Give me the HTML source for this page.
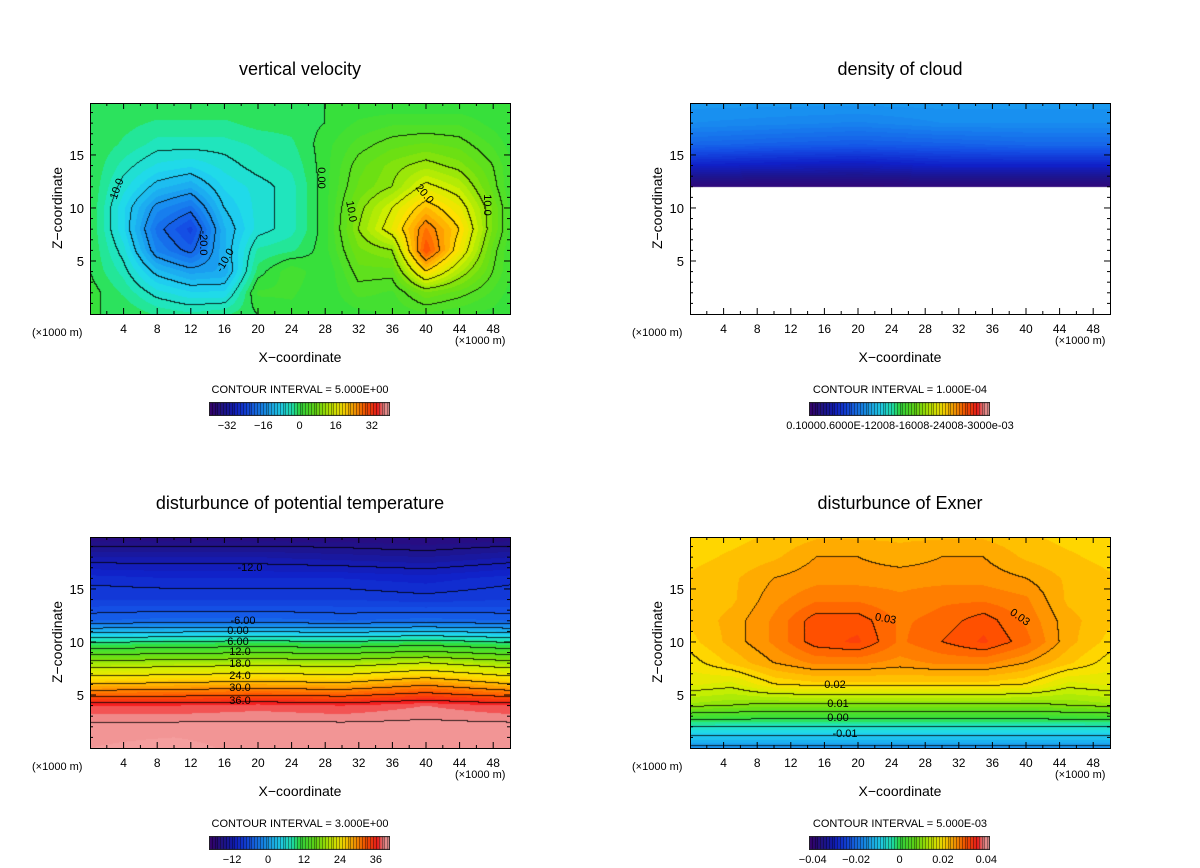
<!DOCTYPE html>
<html><head><meta charset="utf-8">
<style>
body{margin:0;background:#fff;width:1200px;height:868px;overflow:hidden;position:relative;font-family:"Liberation Sans",sans-serif;}
canvas{position:absolute;}
svg{position:absolute;left:0;top:0;}
</style></head>
<body>
<canvas id="c0" width="420" height="211" style="left:90px;top:103px"></canvas>
<canvas id="c1" width="420" height="211" style="left:690px;top:103px"></canvas>
<canvas id="c2" width="420" height="211" style="left:90px;top:537px"></canvas>
<canvas id="c3" width="420" height="211" style="left:690px;top:537px"></canvas>
<canvas id="b0" width="181" height="14" style="left:209px;top:402px"></canvas>
<canvas id="b1" width="181" height="14" style="left:809px;top:402px"></canvas>
<canvas id="b2" width="181" height="14" style="left:209px;top:836px"></canvas>
<canvas id="b3" width="181" height="14" style="left:809px;top:836px"></canvas>
<svg id="ov" width="1200" height="868"></svg>
<script>
// ---- data ----
const zLevels = [0,2,4,6,8,10,12,14,16,18,20];
const vvX = [0,4,8,12,16,20,24,28,32,36,40,44,48,50];
const vvValues = [
[0,0,-2,-3,-2,0,1,0,1,2,3,2,1,0],
[1,-2,-6,-8,-8,2,2,0,4,3,8,6,3,1],
[0,-4,-11,-14,-13,-1,3,0,6,6,20,12,5,2],
[0,-6,-17,-21,-12,-3,-2,1,8,10,30,18,6,2],
[0,-8,-19,-24,-12,-6,-4,1,10,17,27,20,8,3],
[0,-8,-16,-19,-10,-6,-4,1,9,15,22,17,8,3],
[0,-6,-11,-13,-8,-6,-4,1,7,10,16,13,6,2],
[0,-4,-7,-8,-6,-4,-3,1,6,9,11,9,5,2],
[0,-2,-4,-4,-4,-3,-2,1,4,6,7,6,3,1],
[0,-1,-2,-2,-2,-1,-1,0,2,3,3,3,1,0],
[0,0,0,0,0,0,0,0,0,0,0,0,0,0]];
const cloudX = [0,10,20,30,40,50];
const cloudValues = [
[null,null,null,null,null,null],[null,null,null,null,null,null],[null,null,null,null,null,null],
[null,null,null,null,null,null],[null,null,null,null,null,null],[null,null,null,null,null,null],
[0.08,0.08,0.08,0.08,0.08,0.08],
[0.45,0.42,0.4,0.45,0.45,0.45],
[0.75,0.72,0.7,0.72,0.75,0.75],
[0.9,0.88,0.86,0.9,0.9,0.9],
[0.95,0.95,0.95,0.95,0.95,0.95]];
const ptX = [0,10,20,30,40,50];
const ptValues = [
[40,40.5,39.5,40,39.5,40],
[39.5,39.5,39.5,39.5,39.5,39.5],
[37,37,37.5,37,38,37],
[27,27.5,28,27.5,29.5,27],
[19,19.5,20,19.5,21,19],
[8.5,9,9.5,9,10,8.5],
[-5,-4.5,-4.5,-5,-4.5,-5],
[-8,-8,-8,-8,-8.5,-8],
[-9.5,-10,-10,-10,-10.5,-9.5],
[-13,-13,-13,-13.5,-14,-13],
[-17,-17,-17,-17,-17.5,-17]];
const exX = [0,5,10,15,20,25,30,35,40,45,50];
const exValues = [
[-0.016,-0.016,-0.016,-0.016,-0.016,-0.016,-0.016,-0.016,-0.016,-0.016,-0.016],
[-0.005,-0.005,-0.005,-0.005,-0.005,-0.005,-0.005,-0.005,-0.005,-0.005,-0.005],
[0.011,0.01,0.009,0.009,0.009,0.009,0.009,0.009,0.009,0.01,0.011],
[0.017,0.016,0.02,0.021,0.021,0.021,0.021,0.021,0.02,0.016,0.017],
[0.019,0.022,0.025,0.027,0.027,0.026,0.027,0.027,0.025,0.022,0.019],
[0.021,0.024,0.027,0.031,0.032,0.028,0.03,0.032,0.029,0.024,0.021],
[0.022,0.024,0.027,0.031,0.031,0.028,0.029,0.031,0.028,0.024,0.022],
[0.022,0.023,0.026,0.028,0.028,0.027,0.028,0.028,0.027,0.023,0.022],
[0.022,0.023,0.025,0.026,0.026,0.026,0.026,0.026,0.025,0.023,0.022],
[0.021,0.022,0.023,0.025,0.025,0.024,0.025,0.025,0.023,0.022,0.021],
[0.021,0.021,0.022,0.023,0.023,0.023,0.023,0.023,0.022,0.021,0.021]];
const xTicks = [4,8,12,16,20,24,28,32,36,40,44,48];
const yTicks = [5,10,15];

// ---- rendering ----
const stops=[[0,[58,0,112]],[0.08,[30,20,140]],[0.15,[16,32,200]],[0.22,[20,80,230]],[0.3,[24,140,240]],[0.4,[32,216,240]],[0.46,[32,232,176]],[0.5,[48,224,64]],[0.6,[112,224,16]],[0.68,[208,240,0]],[0.74,[255,224,0]],[0.8,[255,160,0]],[0.87,[255,80,0]],[0.93,[245,30,30]],[0.965,[240,140,140]],[1,[245,160,160]]];
function cmap(t){t=Math.max(0,Math.min(1,t));for(let i=1;i<stops.length;i++){if(t<=stops[i][0]){const a=stops[i-1],b=stops[i],f=(t-a[0])/(b[0]-a[0]);return a[1].map((c,k)=>Math.round(c+(b[1][k]-c)*f));}}return stops[stops.length-1][1];}
function idx(arr,v){let i=0;while(i<arr.length-2&&v>arr[i+1])i++;return [i,(v-arr[i])/(arr[i+1]-arr[i])];}
function interp(xs,vals,x,z){const [i,fx]=idx(xs,x),[j,fz]=idx(zLevels,z);const a=vals[j][i],b=vals[j][i+1],c=vals[j+1][i],d=vals[j+1][i+1];if(a===null||b===null||c===null||d===null)return null;return (a*(1-fx)+b*fx)*(1-fz)+(c*(1-fx)+d*fx)*fz;}
function drawField(id,xs,vals,vmin,vmax,ci,lines){
  const cv=document.getElementById(id),ctx=cv.getContext('2d'),W=cv.width,H=cv.height;
  const img=ctx.createImageData(W,H);const V=[];
  for(let py=0;py<H;py++){V.push([]);for(let px=0;px<W;px++){V[py].push(interp(xs,vals,(px+0.5)/W*50,(H-py-0.5)/H*19.9));}}
  const q=ci/3;
  for(let py=0;py<H;py++)for(let px=0;px<W;px++){const v=V[py][px];const o=(py*W+px)*4;let c=[255,255,255];
    if(v!==null){const vq=(Math.floor(v/q)+0.5)*q;c=cmap((vq-vmin)/(vmax-vmin));
      if(lines){const b=Math.floor(v/ci+1e-9);const r=px<W-1?V[py][px+1]:v,d=py<H-1?V[py+1][px]:v;
        if(r!==null&&d!==null&&(Math.floor(r/ci+1e-9)!==b||Math.floor(d/ci+1e-9)!==b)){c=c.map(x=>Math.round(x*0.2));}}}
    img.data[o]=c[0];img.data[o+1]=c[1];img.data[o+2]=c[2];img.data[o+3]=255;}
  ctx.putImageData(img,0,0);
}
function drawBar(id){const cv=document.getElementById(id),ctx=cv.getContext('2d');const n=64;for(let i=0;i<n;i++){const c=cmap((i+0.5)/n);const x0=i*181/n;ctx.fillStyle=`rgb(${c})`;ctx.fillRect(x0,0,181/n+0.5,14);ctx.fillStyle='rgba(0,0,0,0.55)';ctx.fillRect(Math.round(x0),0,1,14);}ctx.strokeStyle='#222';ctx.lineWidth=1;ctx.strokeRect(0.5,0.5,180,13);}
drawField('c0',vvX,vvValues,-40,40,5,true);
drawField('c1',cloudX,cloudValues,0,3,0.1,false);
drawField('c2',ptX,ptValues,-19.7,40.7,3,true);
drawField('c3',exX,exValues,-0.0417,0.0417,0.005,true);
['b0','b1','b2','b3'].forEach(drawBar);

const NS='http://www.w3.org/2000/svg',ov=document.getElementById('ov');
function el(tag,attrs,txt){const e=document.createElementNS(NS,tag);for(const k in attrs)e.setAttribute(k,attrs[k]);if(txt!==undefined)e.textContent=txt;ov.appendChild(e);return e;}
const panels=[
 {ox:0,oy:0,title:'vertical velocity',ci:'CONTOUR INTERVAL = 5.000E+00',name:'velocity'},
 {ox:600,oy:0,title:'density of cloud',ci:'CONTOUR INTERVAL = 1.000E-04',name:'cloud'},
 {ox:0,oy:434,title:'disturbunce of potential temperature',ci:'CONTOUR INTERVAL = 3.000E+00',name:'temperature'},
 {ox:600,oy:434,title:'disturbunce of Exner',ci:'CONTOUR INTERVAL = 5.000E-03',name:'exner'}];
const barLabels=[['−32','−16','0','16','32'],[],['−12','0','12','24','36'],['−0.04','−0.02','0','0.02','0.04']];
const barVals=[[-32,-16,0,16,32],[],[-12,0,12,24,36],[-0.04,-0.02,0,0.02,0.04]];
const barRange=[[-40,40],[0,1],[-19.7,40.7],[-0.0417,0.0417]];
panels.forEach((p,pi)=>{
  const L=90+p.ox,T=103+p.oy,W=420,H=211;
  const sx=v=>L+v/50*W, sy=v=>T+H-v/19.9*H;
  let t=el('text',{x:300+p.ox,y:75+p.oy,'text-anchor':'middle','font-size':18,fill:'#000'},p.title);
  
  let f=el('rect',{x:L+0.5,y:T+0.5,width:W,height:H,fill:'none',stroke:'#000','stroke-width':1});
  
  for(let v=2;v<50;v+=2){const maj=v%4===0,len=maj?6:3;el('line',{x1:sx(v),x2:sx(v),y1:T+H,y2:T+H-len,stroke:'#000'});el('line',{x1:sx(v),x2:sx(v),y1:T,y2:T+len,stroke:'#000'});}
  for(let v=1;v<20;v++){const maj=v%5===0,len=maj?6:3;el('line',{x1:L,x2:L+len,y1:sy(v),y2:sy(v),stroke:'#000'});el('line',{x1:L+W,x2:L+W-len,y1:sy(v),y2:sy(v),stroke:'#000'});}
  xTicks.forEach(v=>{const e=el('text',{x:sx(v),y:T+H+19,'text-anchor':'middle','font-size':12},String(v));
    });
  yTicks.forEach(v=>{const e=el('text',{x:L-6,y:sy(v)+5,'text-anchor':'end','font-size':13},String(v));
    });
  let yl=el('text',{x:0,y:0,transform:`translate(${62+p.ox},${208+p.oy}) rotate(-90)`,'text-anchor':'middle','font-size':14},'Z−coordinate');
  
  let xl=el('text',{x:300+p.ox,y:362+p.oy,'text-anchor':'middle','font-size':14},'X−coordinate');
  
  let u1=el('text',{x:32+p.ox,y:336+p.oy,'font-size':11},'(×1000 m)');
  
  let u2=el('text',{x:455+p.ox,y:344+p.oy,'font-size':11},'(×1000 m)');
  
  let ci=el('text',{x:300+p.ox,y:393+p.oy,'text-anchor':'middle','font-size':11},p.ci);
  
  const r=barRange[pi];
  barVals[pi].forEach((v,k)=>{const e=el('text',{x:209+p.ox+(v-r[0])/(r[1]-r[0])*181,y:429+p.oy,'text-anchor':'middle','font-size':11},barLabels[pi][k]);
    });
  if(pi===1){const e=el('text',{x:900,y:429,'text-anchor':'middle','font-size':11},'0.10000.6000E-12008-16008-24008-3000e-03');
    }
});
const cl=[[120,190,-70,'10.0'],[200,243,90,'-20.0'],[228,262,-60,'-10.0'],[318,178,90,'0.00'],[348,212,80,'10.0'],[422,196,50,'20.0'],[484,205,90,'10.0'],
[250,571,0,'-12.0'],[243,624,0,'-6.00'],[238,634,0,'0.00'],[238,645,0,'6.00'],[240,655,0,'12.0'],[240,667,0,'18.0'],[240,679,0,'24.0'],[240,691,0,'30.0'],[240,704,0,'36.0'],
[885,622,10,'0.03'],[1018,620,35,'0.03'],[835,688,0,'0.02'],[838,707,0,'0.01'],[838,721,0,'0.00'],[845,737,0,'-0.01']];
cl.forEach(c=>{const e=el('text',{x:0,y:0,transform:`translate(${c[0]},${c[1]}) rotate(${c[2]})`,'text-anchor':'middle','font-size':11},c[3]);
  });
</script>
</body></html>
